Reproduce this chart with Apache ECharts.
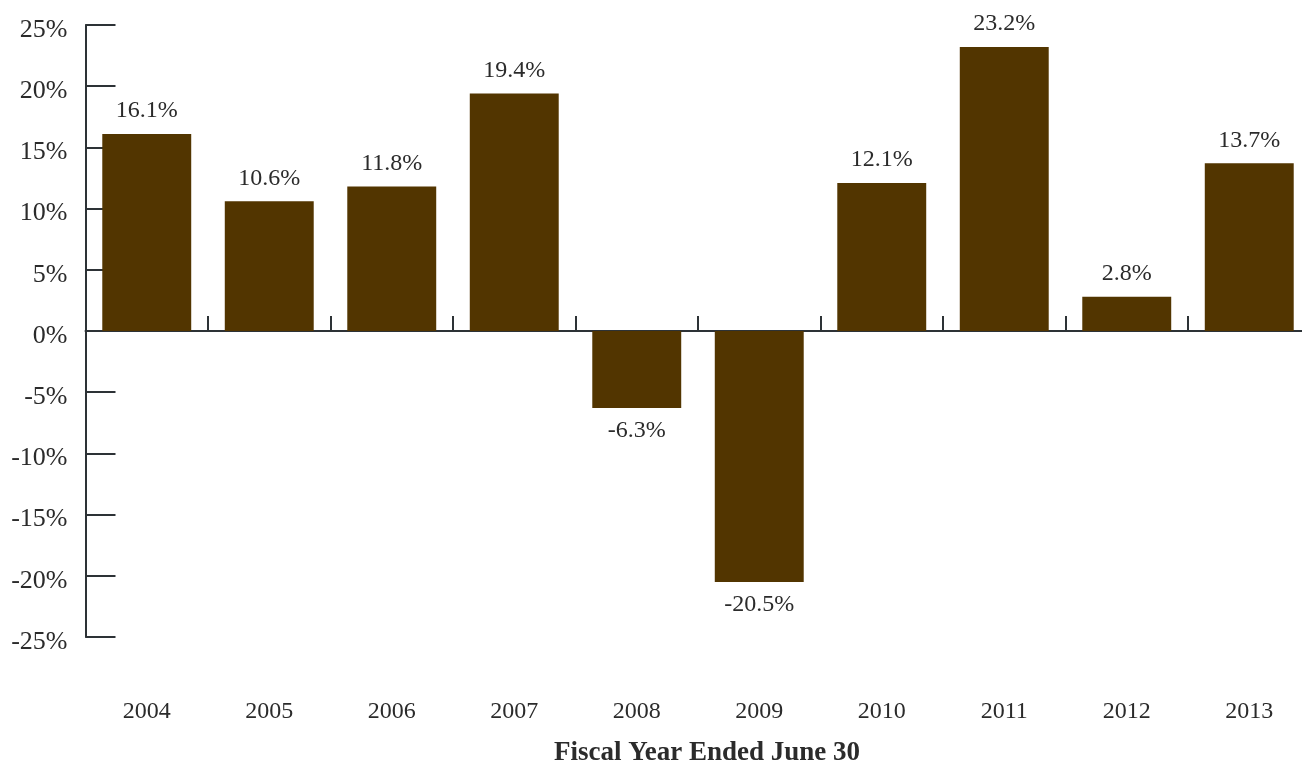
<!DOCTYPE html>
<html>
<head>
<meta charset="utf-8">
<script src="https://cdn.jsdelivr.net/npm/echarts@6/dist/echarts.min.js"></script>
<style>
  html, body { margin: 0; padding: 0; background: #fff; }
  #chart { width: 1302px; height: 766px; }
</style>
</head>
<body>
<div id="chart"></div>
<script>
// Annual returns by fiscal year
const years = ['2004', '2005', '2006', '2007', '2008', '2009', '2010', '2011', '2012', '2013'];
const returns = [16.1, 10.6, 11.8, 19.4, -6.3, -20.5, 12.1, 23.2, 2.8, 13.7];
const yTicks = { min: -25, max: 25, step: 5 };
const axisTitle = 'Fiscal Year Ended June 30';

const FONT = '"Liberation Serif", "DejaVu Serif", serif';
const TEXT = '#2b2b2b';
const AXIS = '#2d3236';
const BAR = '#523500';

const chart = echarts.init(document.getElementById('chart'), null, { renderer: 'canvas' });

chart.setOption({
  animation: false,
  backgroundColor: '#ffffff',
  // plot runs past the right edge so the last category is clipped by the canvas
  grid: { left: 85.5, top: 25, width: 1225, height: 612, containLabel: false, outerBoundsMode: 'none' },
  xAxis: [
    {
      type: 'category',
      data: years,
      axisLine: { onZero: true, lineStyle: { color: AXIS, width: 2 } },
      axisTick: { show: true, inside: true, length: 15, alignWithLabel: false, lineStyle: { color: AXIS, width: 2 } },
      axisLabel: { show: false },
      splitLine: { show: false }
    },
    {
      type: 'category',
      data: years,
      position: 'bottom',
      axisLine: { show: false, onZero: false },
      axisTick: { show: false },
      axisLabel: { margin: 63, fontFamily: FONT, fontSize: 24, color: TEXT },
      splitLine: { show: false }
    }
  ],
  yAxis: {
    type: 'value',
    min: yTicks.min,
    max: yTicks.max,
    interval: yTicks.step,
    axisLine: { show: true, lineStyle: { color: AXIS, width: 2 } },
    axisTick: { show: true, inside: true, length: 30, lineStyle: { color: AXIS, width: 2 } },
    axisLabel: {
      margin: 18, fontFamily: FONT, fontSize: 26, color: TEXT,
      verticalAlign: 'top', lineHeight: 10,
      formatter: v => v + '%'
    },
    splitLine: { show: false }
  },
  graphic: [{
    type: 'text',
    x: 707,
    y: 753,
    style: {
      text: axisTitle, font: 'bold 27px ' + FONT, fill: TEXT,
      align: 'center', verticalAlign: 'middle'
    }
  }],
  series: [{
    type: 'bar',
    xAxisIndex: 0,
    data: returns,
    barWidth: '72.6%',
    itemStyle: { color: BAR },
    label: {
      show: true,
      position: 'outside',
      distance: 11,
      fontFamily: FONT,
      fontSize: 24,
      color: TEXT,
      formatter: p => p.value.toFixed(1) + '%'
    }
  }]
});
</script>
</body>
</html>
